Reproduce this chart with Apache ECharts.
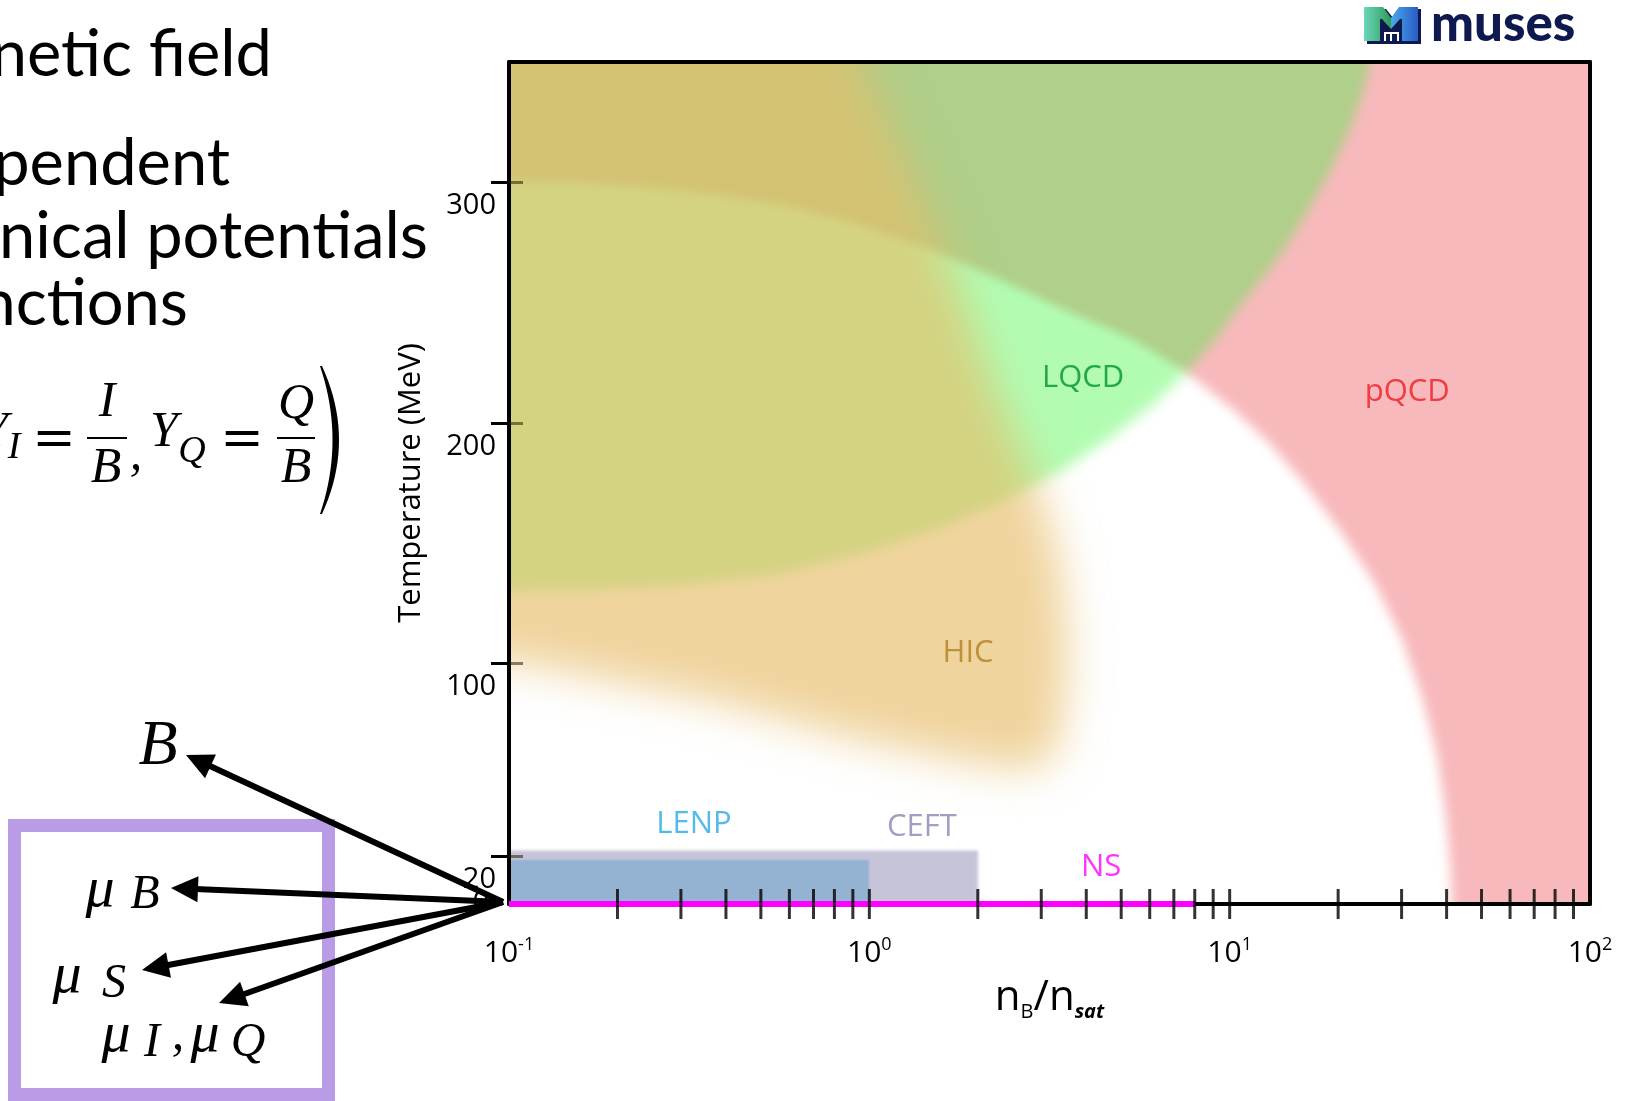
<!DOCTYPE html>
<html><head><meta charset="utf-8">
<script src="https://cdn.jsdelivr.net/npm/echarts@6/dist/echarts.min.js"></script>
<style>html,body{margin:0;padding:0;background:#fff}#c{width:1627px;height:1101px}</style>
</head><body><div id="c"></div>
<script>
// ---------------- data ----------------
const xRange = [0.1, 100];          // n_B / n_sat (log)
const yRange = [0, 350];            // Temperature (MeV)
const yTickValues = [20, 100, 200, 300];
const xMinorTicks = [0.2,0.3,0.4,0.5,0.6,0.7,0.8,0.9,1,2,3,4,5,6,7,8,9,10,20,30,40,50,60,70,80,90];

// region outlines, [n_B/n_sat, T]
const lqcdOuter = [[0.06,380],[31,380],[30.6,350],[29.3,336.8],[26.8,321.1],[23.5,303.3],[20.1,285.4],[16.9,267.5],[13.5,249.6],[11.3,234.0],[9.5,221.0],[7.59,221.0],[5.33,235.1],[3.427,247.4],[2.203,260.8],[1.416,273.1],[0.911,283.1],[0.585,290.3],[0.376,295.0],[0.242,298.1],[0.156,299.9],[0.1,300.6],[0.06,300.8]];
const pqcdRegion = [[25,380],[150,380],[150,-20],[41.4,-20],[41.4,0],[41.0,15.0],[39.8,37.3],[37.6,61.9],[34.1,86.5],[29.9,111.1],[25.0,134.5],[20.1,155.8],[16.1,174.8],[12.9,191.5],[10.35,204.9],[7.59,221.0],[9.06,234.0],[10.8,249.6],[13.5,267.5],[16.1,285.4],[18.8,303.3],[21.4,321.1],[23.4,336.8],[24.5,350]];
const lqcdInner = [[0.06,130.1],[0.1,130.1],[0.156,130.5],[0.302,132.3],[0.536,136.7],[0.911,144.6],[1.55,155.8],[2.41,168.0],[3.43,180.3],[4.67,193.8],[6.09,207.2],[7.59,221.0],[6.5,300],[5,380],[0.06,380]];
const hicRegion = [[0.05,400],[0.951,400],[0.951,350],[1.12,327.9],[1.3,305.5],[1.5,283.2],[1.78,256.3],[2.1,225.0],[2.48,198.2],[2.98,171.4],[3.4,142.3],[3.55,108.8],[3.5,82.0],[3.3,61.9],[2.75,55.2],[1.77,59.7],[0.911,68.6],[0.376,84.2],[0.156,95.4],[0.1,101.0],[0.05,104]];
const ceftRegion = [[0.06,-10],[2.0,-10],[2.0,22.3],[0.06,22.3]];
const lenpRegion = [[0.06,-10],[1.0,-10],[1.0,18.2],[0.06,18.2]];
const nsLine = [[0.1,0],[8,0]];

const regionNames  = ['LQCD','pQCD','HIC','LENP','CEFT','NS'];
const regionLabelX = [3.92, 31.1, 1.88, 0.326, 1.40, 4.40];
const regionLabelY = [218.7, 212.9, 104.3, 33.1, 32.0, 15.3];

// ---------------- styles ----------------
const labelColor = {LQCD:'#00912f', pQCD:'#ed1c24', HIC:'#b07e22', LENP:'#27aae1', CEFT:'#8a86b6', NS:'#ff00ff'};
const OFF = 3000; // polygon drawn off-canvas, only its blurred shadow lands in the plot

function region(name, pts, rgb, alpha, blur, z) {
  return {
    type: 'custom', name: name, coordinateSystem: 'cartesian2d', clip: true, silent: true, z: z,
    data: pts,
    renderItem: function (params, api) {
      if (params.dataIndex !== 0) return null;
      const p = pts.map(function (d) { const c = api.coord(d); return [c[0] + OFF, c[1]]; });
      return { type: 'polygon', shape: { points: p },
        style: { fill: 'rgb(' + rgb + ')', shadowBlur: blur, shadowColor: 'rgba(' + rgb + ',' + alpha + ')', shadowOffsetX: -OFF, shadowOffsetY: 0 } };
    }
  };
}

const chart = echarts.init(document.getElementById('c'), null, {renderer: 'canvas', width: 1627, height: 1101});
const sans = "'Open Sans', 'Noto Sans', sans-serif";
const serif = "'Liberation Serif', 'DejaVu Serif', serif";

function txt(text, x, y, font, align, fill) {
  return { type: 'text', z: 100, silent: true,
    style: { text: text, x: x, y: y, font: font, fill: fill || '#000', align: align || 'center', verticalAlign: 'middle' } };
}
function arrow(x0, y0, x1, y1) {
  const dx = x1 - x0, dy = y1 - y0, len = Math.sqrt(dx*dx + dy*dy);
  const ux = dx/len, uy = dy/len, nx = -uy, ny = ux;
  const L = 27, W = 13;
  const bx = x1 - ux*L, by = y1 - uy*L;
  return [
    { type: 'line', z: 101, silent: true, shape: { x1: x0, y1: y0, x2: bx + ux*3, y2: by + uy*3 }, style: { stroke: '#000', lineWidth: 6 } },
    { type: 'polygon', z: 101, silent: true, shape: { points: [[x1, y1], [bx + nx*W, by + ny*W], [bx - nx*W, by - ny*W]] }, style: { fill: '#000' } }
  ];
}
function parenPoints() {
  const pts = [];
  function q(p0, c, p1, t) { return (1-t)*(1-t)*p0 + 2*(1-t)*t*c + t*t*p1; }
  for (let i = 0; i <= 20; i++) { const t = i/20; pts.push([q(322, 356, 322, t), q(366, 440, 514, t)]); }
  for (let i = 20; i >= 0; i--) { const t = i/20; pts.push([q(320, 345, 320, t), q(366, 440, 514, t)]); }
  return pts;
}

const slideFont = "65px Lato, 'Open Sans'";
const slideText = [
  txt('netic field', 272, 55, slideFont, 'right'),
  txt('pendent', 230, 164, slideFont, 'right'),
  txt('nical potentials', 428, 237, slideFont, 'right'),
  txt('nctions', 188, 304, slideFont, 'right')
];
const mathFont = 'italic 50px ' + serif;
const subFont = 'italic 38px ' + serif;
const muFont = 'italic 58px ' + serif;
const subBig = 'italic 48px ' + serif;
const eqFont = "52px 'DejaVu Serif', 'Liberation Serif', serif";
const formula = [
  txt('Y', 8, 433, mathFont, 'right'),
  txt('I', 14, 448, subFont),
  txt('=', 54, 441, eqFont),
  txt('I', 107, 403, mathFont),
  { type: 'line', z: 100, silent: true, shape: { x1: 87, y1: 438, x2: 127, y2: 438 }, style: { stroke: '#000', lineWidth: 2 } },
  txt('B', 106, 469, mathFont),
  txt(',', 136, 456, mathFont),
  txt('Y', 164, 433, mathFont),
  txt('Q', 192, 452, subFont),
  txt('=', 242, 441, eqFont),
  txt('Q', 296, 405, mathFont),
  { type: 'line', z: 100, silent: true, shape: { x1: 277, y1: 438, x2: 315, y2: 438 }, style: { stroke: '#000', lineWidth: 2 } },
  txt('B', 296, 469, mathFont),
  { type: 'polygon', z: 100, silent: true, shape: { points: parenPoints() }, style: { fill: '#000' } }
];
const boxAndSymbols = [
  { type: 'rect', z: 99, silent: true, shape: { x: 14.5, y: 825.5, width: 314, height: 269 }, style: { fill: 'none', stroke: '#b99be6', lineWidth: 13 } },
  txt('B', 158, 747, 'italic 64px ' + serif),
  txt('\u03bc', 100, 891, muFont),
  txt('B', 145, 895, subBig),
  txt('\u03bc', 67, 977, muFont),
  txt('S', 114, 984, subBig),
  txt('\u03bc', 116, 1036, muFont),
  txt('I', 152, 1043, subBig),
  txt(',', 178, 1036, mathFont),
  txt('\u03bc', 205, 1036, muFont),
  txt('Q', 248, 1043, subBig)
].concat(arrow(503, 902, 186, 755), arrow(503, 902, 171, 888), arrow(503, 902, 142, 970), arrow(503, 902, 219, 1003));

const navy = '#0e1a4f';
function grad(c0, c1) { return { type: 'linear', x: 0, y: 0, x2: 1, y2: 0, colorStops: [{ offset: 0, color: c0 }, { offset: 1, color: c1 }] }; }
const logo = [
  { type: 'polygon', z: 100, silent: true, shape: { points: [[1367,9],[1386,9],[1394,19],[1402,9],[1421,9],[1421,44],[1367,44]] }, style: { fill: navy } },
  { type: 'polygon', z: 101, silent: true, shape: { points: [[1364,7],[1383,7],[1391,18],[1391,29],[1382,19],[1380,19],[1380,41],[1364,41]] }, style: { fill: grad('#6ad6bb', '#2f9c55') } },
  { type: 'polygon', z: 101, silent: true, shape: { points: [[1399,7],[1418,7],[1418,41],[1402,41],[1402,19],[1400,19],[1391,29],[1391,18]] }, style: { fill: grad('#4aa8ec', '#2a5cc4') } },
  { type: 'rect', z: 103, silent: true, shape: { x: 1384, y: 32, width: 15, height: 2 }, style: { fill: '#fff' } },
  { type: 'rect', z: 103, silent: true, shape: { x: 1384, y: 32, width: 2, height: 9 }, style: { fill: '#fff' } },
  { type: 'rect', z: 103, silent: true, shape: { x: 1390, y: 32, width: 2, height: 9 }, style: { fill: '#fff' } },
  { type: 'rect', z: 103, silent: true, shape: { x: 1397, y: 32, width: 2, height: 9 }, style: { fill: '#fff' } },
  txt('muses', 1431, 25, "900 51px Lato, 'Open Sans'", 'left', navy)
];

const option = {
  animation: false,
  backgroundColor: '#ffffff',
  grid: { left: 509, right: 37, top: 62, bottom: 197, containLabel: false },
  xAxis: [
    { type: 'log', logBase: 10, min: xRange[0], max: xRange[1], position: 'bottom', z: 20,
      axisLine: { show: true, onZero: false, lineStyle: { color: '#000', width: 4 } },
      axisTick: { show: false }, splitLine: { show: false }, minorTick: { show: false },
      axisLabel: { margin: 32, formatter: function (v) { return '{b|10}{s|' + Math.round(Math.log10(v)) + '}'; },
        rich: { b: { fontSize: 30, fontFamily: sans, color: '#000', lineHeight: 34 },
                s: { fontSize: 18, fontFamily: sans, color: '#000', lineHeight: 18, verticalAlign: 'top' } } },
      name: '{n|n}{sub|B}{n|/n}{sat|sat}', nameLocation: 'middle', nameGap: 70,
      nameTextStyle: { rich: {
        n: { fontSize: 42, fontFamily: sans, color: '#000', lineHeight: 48 },
        sub: { fontSize: 20, fontFamily: sans, color: '#000', lineHeight: 10, verticalAlign: 'bottom' },
        sat: { fontSize: 20, fontFamily: sans, fontStyle: 'italic', fontWeight: 'bold', color: '#000', lineHeight: 10, verticalAlign: 'bottom' } } } },
    { type: 'log', logBase: 10, min: xRange[0], max: xRange[1], position: 'top', z: 20,
      axisLine: { show: true, onZero: false, lineStyle: { color: '#000', width: 4 } },
      axisTick: { show: false }, axisLabel: { show: false }, splitLine: { show: false } }
  ],
  yAxis: [
    { type: 'value', min: yRange[0], max: yRange[1], position: 'left', z: 20,
      axisLine: { show: true, onZero: false, lineStyle: { color: '#000', width: 4 } },
      axisTick: { show: true, customValues: yTickValues, length: 18, lineStyle: { color: '#000', width: 3 } },
      axisLabel: { customValues: yTickValues, fontSize: 29, fontFamily: sans, color: '#000', margin: 13, verticalAlign: 'top', padding: [9, 0, 0, 0] },
      splitLine: { show: false },
      name: 'Temperature (MeV)', nameLocation: 'middle', nameGap: 82,
      nameTextStyle: { fontSize: 31, fontFamily: sans, color: '#000' } },
    { type: 'value', min: yRange[0], max: yRange[1], position: 'left', z: 20,
      axisLine: { show: false, onZero: false },
      axisTick: { show: true, inside: true, customValues: yTickValues, length: 14, lineStyle: { color: 'rgba(40,30,0,0.55)', width: 3 } },
      axisLabel: { customValues: [0], fontSize: 29, fontFamily: sans, color: '#000', margin: 20, verticalAlign: 'middle', padding: [10, 0, 0, 0] },
      splitLine: { show: false } },
    { type: 'value', min: yRange[0], max: yRange[1], position: 'right', z: 20,
      axisLine: { show: true, onZero: false, lineStyle: { color: '#000', width: 4 } },
      axisTick: { show: false }, axisLabel: { show: false }, splitLine: { show: false } }
  ],
  series: [
    region('LQCD inner', lqcdInner, '178,252,178', 1, 14, 2),
    region('LQCD', lqcdOuter, '176,207,138', 1, 10, 3),
    region('pQCD', pqcdRegion, '248,185,188', 1, 12, 4),
    region('HIC', hicRegion, '231,187,101', 0.63, 42, 5),
    region('CEFT', ceftRegion, '198,196,217', 1, 3, 6),
    region('LENP', lenpRegion, '148,178,209', 1, 2, 7),
    { type: 'line', name: 'NS', data: nsLine, symbol: 'none', clip: false, silent: true, z: 25,
      lineStyle: { color: '#ff00ff', width: 6 } },
    { type: 'scatter', name: 'ticks', data: xMinorTicks.map(function (v) { return [v, 0]; }), symbol: 'rect', symbolSize: [3, 30],
      clip: false, silent: true, z: 30, itemStyle: { color: '#000' } },
    { type: 'scatter', name: 'labels', symbolSize: 0, silent: true, z: 40, clip: false,
      data: regionNames.map(function (n, i) { return { name: n, value: [regionLabelX[i], regionLabelY[i]], label: { color: labelColor[n] } }; }),
      label: { show: true, position: 'inside', formatter: '{b}', fontSize: 31, fontFamily: sans } }
  ],
  graphic: { elements: slideText.concat(formula, boxAndSymbols, logo) }
};
chart.setOption(option);
</script>
</body></html>
